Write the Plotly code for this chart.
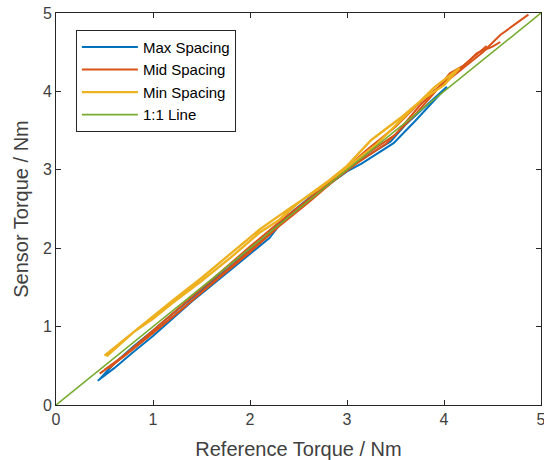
import plotly.graph_objects as go

# Max Spacing (up then down sweep)
max_x = [0.43, 0.6, 0.8, 1.0, 1.2, 1.4, 1.6, 1.8, 2.0, 2.2, 2.35, 2.6, 2.8, 3.0, 3.15, 3.3, 3.48, 3.7, 3.85, 4.03,
         3.8, 3.6, 3.45, 3.2, 3.0, 2.8, 2.6, 2.4, 2.2, 2.0, 1.8, 1.6, 1.4, 1.2, 1.0, 0.8, 0.6, 0.45]
max_y = [0.31, 0.47, 0.68, 0.88, 1.1, 1.32, 1.52, 1.72, 1.92, 2.13, 2.37, 2.6, 2.8, 2.98, 3.08, 3.2, 3.34, 3.62, 3.82, 4.06,
         3.8, 3.57, 3.36, 3.17, 3.02, 2.83, 2.63, 2.43, 2.2, 1.98, 1.77, 1.57, 1.37, 1.16, 0.95, 0.75, 0.53, 0.33]

# Mid Spacing (three sweeps, separated by gaps)
mid_x = [0.45, 0.7, 1.0, 1.3, 1.6, 1.9, 2.2, 2.5, 2.8, 3.1, 3.4, 3.7, 3.9, 4.06, 4.2, 4.44, None,
         0.5, 0.8, 1.1, 1.4, 1.7, 2.0, 2.3, 2.6, 2.9, 3.2, 3.5, 3.75, 4.0, 4.2, 4.34, 4.5, 4.58, None,
         4.87, 4.58, 4.4, 4.2, 4.0, 3.8, 3.5, 3.2, 2.9, 2.6, 2.3, 2.0, 1.7, 1.4, 1.1, 0.8, 0.55]
mid_y = [0.40, 0.62, 0.92, 1.22, 1.55, 1.87, 2.18, 2.5, 2.8, 3.08, 3.33, 3.7, 3.98, 4.23, 4.33, 4.58, None,
         0.45, 0.72, 1.02, 1.33, 1.64, 1.95, 2.28, 2.58, 2.9, 3.2, 3.45, 3.82, 4.12, 4.32, 4.49, 4.57, 4.63, None,
         4.98, 4.72, 4.5, 4.3, 4.1, 3.92, 3.55, 3.25, 2.92, 2.62, 2.33, 2.02, 1.7, 1.38, 1.06, 0.74, 0.47]

# Min Spacing (up then down sweep)
min_x = [0.52, 0.8, 1.0, 1.2, 1.5, 1.8, 2.1, 2.3, 2.5, 2.8, 3.0, 3.25, 3.55, 3.78, 4.0, 4.16,
         3.9, 3.6, 3.3, 3.0, 2.7, 2.4, 2.1, 1.8, 1.5, 1.2, 0.9, 0.6, 0.5]
min_y = [0.62, 0.93, 1.1, 1.3, 1.58, 1.88, 2.2, 2.36, 2.58, 2.85, 3.05, 3.38, 3.66, 3.9, 4.08, 4.3,
         4.05, 3.68, 3.32, 3.03, 2.75, 2.5, 2.24, 1.93, 1.62, 1.33, 1.03, 0.72, 0.63]

# 1:1 line
ref_x = [0, 5]
ref_y = [0, 5]

names = ["Max Spacing", "Mid Spacing", "Min Spacing", "1:1 Line"]
colors = ["#0072BD", "#D95319", "#EDB120", "#77AC30"]

fig = go.Figure()
for xs, ys, nm, c, w in [(max_x, max_y, names[0], colors[0], 2),
                         (mid_x, mid_y, names[1], colors[1], 2),
                         (min_x, min_y, names[2], colors[2], 2.4),
                         (ref_x, ref_y, names[3], colors[3], 1.6)]:
    fig.add_trace(go.Scatter(x=xs, y=ys, mode="lines", name=nm,
                             line=dict(color=c, width=w), connectgaps=False))

FONT = "Liberation Sans, Arial"
axis_common = dict(range=[0, 5], dtick=1, showgrid=False, zeroline=False,
                   showline=True, linecolor="#262626", linewidth=1, mirror="ticks",
                   ticks="inside", ticklen=5, tickcolor="#262626",
                   ticklabeloverflow="allow",
                   tickfont=dict(family=FONT, size=16, color="#404040"),
                   title_font=dict(family=FONT, size=20, color="#404040"))

fig.update_layout(
    width=544, height=460,
    margin=dict(l=56, r=3, t=13, b=55),
    plot_bgcolor="white", paper_bgcolor="white",
    xaxis=dict(**axis_common, automargin=False,
               title=dict(text="Reference Torque / Nm", standoff=15)),
    yaxis=dict(**axis_common, automargin=True,
               title=dict(text="Sensor Torque / Nm", standoff=8)),
    legend=dict(x=0.041, y=0.957, xanchor="left", yanchor="top",
                bgcolor="white", bordercolor="#262626", borderwidth=1,
                font=dict(family=FONT, size=15, color="#000000"),
                itemwidth=56, tracegroupgap=0),
    showlegend=True,
)

fig.write_html("out.html", config={"displayModeBar": False},
               post_script="document.body.style.margin='0';document.body.style.overflow='hidden';")
